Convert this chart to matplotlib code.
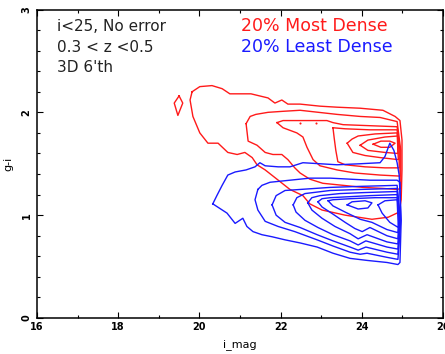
import numpy as np
import matplotlib
matplotlib.use("Agg")
from matplotlib import pyplot as plt
from matplotlib.ticker import MultipleLocator

# contour paths (i_mag, g-i) for the densest 20% of galaxies
red_outer = [(19.82, 2.20), (20.01, 2.25), (20.31, 2.26), (20.56, 2.23), (20.75, 2.18),
             (21.27, 2.18), (21.69, 2.14), (21.86, 2.09), (22.03, 2.12), (22.18, 2.08),
             (22.48, 2.08), (22.97, 2.06), (23.39, 2.05), (23.96, 2.04), (24.52, 2.02),
             (24.82, 1.96), (24.94, 1.92), (24.99, 1.73), (24.99, 1.44), (24.97, 1.15),
             (24.92, 1.03), (24.65, 0.98), (24.25, 0.96), (23.59, 1.00), (23.02, 1.05),
             (22.72, 1.11), (22.55, 1.19), (22.23, 1.25), (21.91, 1.35), (21.62, 1.44),
             (21.42, 1.49), (21.30, 1.56), (21.12, 1.61), (20.93, 1.59), (20.70, 1.61),
             (20.46, 1.70), (20.21, 1.70), (20.01, 1.80), (19.84, 1.96), (19.77, 2.12),
             (19.82, 2.20)]
red_island = [(19.50, 2.16), (19.59, 2.09), (19.47, 1.97), (19.38, 2.09), (19.50, 2.16)]
red_2 = [(21.15, 1.89), (21.25, 1.96), (21.39, 1.98), (21.69, 2.00), (22.06, 2.01),
         (22.48, 2.02), (23.39, 1.98), (23.96, 1.96), (24.45, 1.95), (24.87, 1.91),
         (24.96, 1.63), (24.96, 1.26), (24.87, 1.25), (24.52, 1.26), (24.03, 1.27),
         (23.54, 1.29), (23.04, 1.31), (22.72, 1.35), (22.48, 1.41), (22.35, 1.46),
         (22.18, 1.54), (22.03, 1.59), (21.81, 1.59), (21.62, 1.61), (21.42, 1.68),
         (21.20, 1.72), (21.15, 1.89)]
red_3 = [(21.91, 1.90), (22.06, 1.92), (22.23, 1.92), (22.72, 1.92), (23.14, 1.92),
         (23.29, 1.90), (23.54, 1.88), (24.20, 1.87), (24.87, 1.86), (24.94, 1.63),
         (24.94, 1.38), (24.45, 1.39), (23.83, 1.41), (23.39, 1.44), (22.97, 1.48),
         (22.80, 1.54), (22.65, 1.66), (22.55, 1.76), (22.40, 1.80), (22.06, 1.85),
         (21.91, 1.90)]
red_4 = [(23.29, 1.85), (23.59, 1.84), (24.20, 1.83), (24.87, 1.83), (24.92, 1.63),
         (24.92, 1.46), (24.57, 1.46), (24.08, 1.47), (23.59, 1.49), (23.41, 1.52),
         (23.36, 1.63), (23.32, 1.75), (23.29, 1.85)]
red_5 = [(23.64, 1.70), (23.76, 1.74), (23.91, 1.77), (24.33, 1.79), (24.87, 1.80),
         (24.90, 1.54), (24.45, 1.56), (24.08, 1.58), (23.78, 1.61), (23.64, 1.70)]
red_6 = [(23.96, 1.68), (24.15, 1.73), (24.57, 1.76), (24.89, 1.77), (24.89, 1.60),
         (24.57, 1.61), (24.15, 1.63), (23.96, 1.68)]
red_7 = [(24.28, 1.69), (24.47, 1.72), (24.69, 1.72), (24.82, 1.70), (24.69, 1.66),
         (24.47, 1.66), (24.28, 1.69)]
red_peaks_x = [22.48, 22.87]
red_peaks_y = [1.90, 1.90]

# contour paths for the least dense 20%
blue_1 = [(20.33, 1.11), (20.43, 1.19), (20.56, 1.29), (20.70, 1.39), (20.88, 1.42),
          (21.15, 1.44), (21.37, 1.47), (21.49, 1.51), (21.62, 1.48), (21.94, 1.47),
          (22.23, 1.47), (22.55, 1.51), (23.39, 1.49), (23.96, 1.50), (24.45, 1.51),
          (24.57, 1.57), (24.69, 1.70), (24.79, 1.63), (24.87, 1.51), (24.92, 1.39),
          (24.97, 0.95), (24.94, 0.54), (24.89, 0.52), (24.62, 0.54), (24.13, 0.56),
          (23.71, 0.58), (23.29, 0.63), (22.90, 0.69), (22.48, 0.73), (22.11, 0.76),
          (21.79, 0.79), (21.54, 0.81), (21.32, 0.84), (21.17, 0.89), (21.07, 0.97),
          (20.88, 0.92), (20.68, 1.02), (20.33, 1.11)]
blue_2 = [(21.44, 1.25), (21.37, 1.15), (21.44, 1.05), (21.62, 0.94), (21.94, 0.89),
          (22.35, 0.84), (22.90, 0.76), (23.29, 0.70), (23.71, 0.64), (23.96, 0.62),
          (24.13, 0.63), (24.62, 0.59), (24.89, 0.57), (24.96, 0.95), (24.94, 1.32),
          (24.87, 1.34), (24.20, 1.34), (23.22, 1.36), (22.72, 1.36), (22.23, 1.34),
          (21.74, 1.32), (21.54, 1.29), (21.44, 1.25)]
blue_3 = [(21.79, 1.10), (21.89, 1.19), (22.11, 1.24), (22.48, 1.25), (23.22, 1.27),
          (23.96, 1.28), (24.87, 1.29), (24.95, 0.95), (24.89, 0.62), (24.62, 0.64),
          (24.10, 0.69), (23.91, 0.66), (23.71, 0.69), (23.29, 0.75), (22.90, 0.81),
          (22.48, 0.88), (22.11, 0.93), (21.89, 1.00), (21.79, 1.10)]
blue_4 = [(22.31, 1.10), (22.40, 1.17), (22.60, 1.21), (23.22, 1.24), (23.96, 1.25),
          (24.87, 1.26), (24.94, 0.95), (24.89, 0.67), (24.62, 0.69), (24.10, 0.75),
          (23.91, 0.71), (23.71, 0.75), (23.29, 0.81), (22.92, 0.88), (22.60, 0.95),
          (22.38, 1.03), (22.31, 1.10)]
blue_5 = [(22.67, 1.12), (22.77, 1.17), (22.97, 1.19), (23.46, 1.21), (24.08, 1.22),
          (24.87, 1.23), (24.93, 0.95), (24.89, 0.72), (24.62, 0.74), (24.13, 0.81),
          (23.91, 0.77), (23.71, 0.82), (23.34, 0.89), (23.02, 0.97), (22.77, 1.05),
          (22.67, 1.12)]
blue_6 = [(22.92, 1.13), (23.02, 1.16), (23.22, 1.17), (23.71, 1.18), (24.20, 1.19),
          (24.87, 1.20), (24.92, 0.97), (24.89, 0.77), (24.62, 0.80), (24.20, 0.88),
          (24.01, 0.84), (23.83, 0.87), (23.59, 0.93), (23.29, 1.01), (23.02, 1.08),
          (22.92, 1.13)]
blue_7 = [(23.17, 1.14), (23.29, 1.15), (23.71, 1.16), (24.33, 1.17), (24.87, 1.17),
          (24.92, 1.00), (24.89, 0.83), (24.62, 0.86), (24.25, 0.93), (23.96, 0.96),
          (23.59, 1.03), (23.29, 1.09), (23.17, 1.14)]
blue_8 = [(23.64, 1.10), (23.76, 1.13), (24.08, 1.14), (24.25, 1.12), (24.15, 1.07),
          (23.91, 1.06), (23.64, 1.10)]
blue_9 = [(24.40, 1.10), (24.57, 1.14), (24.87, 1.15), (24.90, 0.88), (24.69, 0.93),
          (24.50, 1.02), (24.40, 1.10)]

red_contours = [red_outer, red_island, red_2, red_3, red_4, red_5, red_6, red_7]
blue_contours = [blue_1, blue_2, blue_3, blue_4, blue_5, blue_6, blue_7, blue_8, blue_9]

info_lines = ['i<25, No error', '0.3 < z <0.5', "3D 6'th"]
legend_lines = ['20% Most Dense', '20% Least Dense']

RED = '#ff1a1a'
BLUE = '#1a1aff'

fig = plt.figure(figsize=(4.45, 3.54), dpi=100)
ax = fig.add_axes([37 / 445, 36 / 354, 406 / 445, 308.5 / 354])

for path in red_contours:
    xs, ys = zip(*path)
    ax.plot(xs, ys, color=RED, lw=1.0)
ax.plot(red_peaks_x, red_peaks_y, 'o', color=RED, ms=1.5, mew=0)
for path in blue_contours:
    xs, ys = zip(*path)
    ax.plot(xs, ys, color=BLUE, lw=1.0)

ax.set_xlim(16, 26)
ax.set_ylim(0, 3)
ax.xaxis.set_major_locator(MultipleLocator(2))
ax.xaxis.set_minor_locator(MultipleLocator(1))
ax.yaxis.set_major_locator(MultipleLocator(1))
ax.yaxis.set_minor_locator(MultipleLocator(0.2))
ax.tick_params(which='both', direction='in', top=True, right=True, width=0.8)
ax.tick_params(which='major', length=4, labelsize=7, pad=3)
ax.tick_params(which='minor', length=2)
ax.tick_params(axis='y', labelrotation=90, pad=4)
for lab in ax.get_xticklabels() + ax.get_yticklabels():
    lab.set_fontweight('bold')
for lab in ax.get_yticklabels():
    lab.set_va('center')
for sp in ax.spines.values():
    sp.set_linewidth(1.1)

ax.set_xlabel('i_mag', fontsize=8, labelpad=5)
ax.set_ylabel('g-i', fontsize=8, labelpad=6)

for k, line in enumerate(info_lines):
    ax.text(16.49, 2.79 - 0.2 * k, line, color='#222222', fontsize=11, va='baseline')
for line, col, yy in zip(legend_lines, [RED, BLUE], [2.79, 2.59]):
    ax.text(21.02, yy, line, color=col, fontsize=12.5, va='baseline')

fig.savefig('out.png', dpi=100)
